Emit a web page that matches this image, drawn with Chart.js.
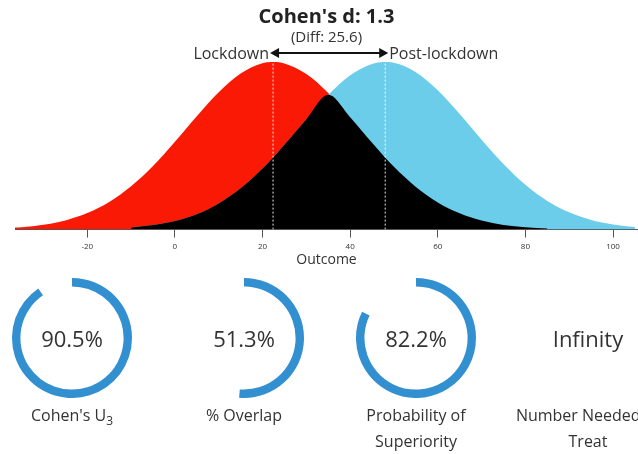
<!DOCTYPE html>
<html>
<head>
<meta charset="utf-8">
<script src="https://cdn.jsdelivr.net/npm/chart.js@4"></script>
<style>
  html, body { margin: 0; padding: 0; background: #fff; }
  body { width: 638px; height: 454px; position: relative; overflow: hidden; font-family: "Open Sans", sans-serif; color: #333; }
  #top { position: absolute; left: 0; top: 0; width: 638px; height: 268px; }
  .gauge { position: absolute; top: 278px; width: 120px; height: 120px; }
  .gauge .val { position: absolute; left: -30px; right: -30px; top: 0; line-height: 120px; text-align: center; font-size: 22px; color: #333; }
  .lbl { position: absolute; top: 402px; width: 200px; text-align: center; font-size: 16px; line-height: 26px; color: #333; white-space: nowrap; }
  .lbl sub { font-size: 12px; vertical-align: -4px; line-height: 0; }
</style>
</head>
<body>
<div id="top"><canvas id="dist"></canvas></div>
<div id="gauges"></div>

<script>
// distribution data (relative density, peak = 100)
const outcome = [-36.5, -35, -30, -25, -20, -15, -10, -5, 0, 5, 10, 15, 20, 22.5, 25, 30, 35, 40, 45, 47.5, 50, 55, 60, 65, 70, 75, 80, 85, 90, 95, 100, 105];
const lockdown = [1.2, 1.4, 2.9, 5.5, 9.9, 16.5, 25.9, 38.0, 52.4, 67.7, 82.0, 93.2, 99.3, 100.0, 99.1, 92.8, 81.5, 67.1, 51.8, 44.4, 37.5, 25.4, 16.2, 9.7, 5.4, 2.8, 1.4, 0.6, null, null, null, null];
const postLockdown = [null, null, null, null, null, null, 1.3, 2.7, 5.1, 9.2, 15.6, 24.6, 36.4, 43.3, 50.6, 65.9, 80.4, 92.1, 98.8, 100.0, 99.5, 93.9, 83.1, 68.9, 53.6, 39.1, 26.7, 17.1, 10.3, 5.8, 3.1, 1.5];
const groupMeans = [22.4, 48.0];
const groupNames = ['Lockdown', 'Post-lockdown'];
const xTicks = [-20, 0, 20, 40, 60, 80, 100];

const titleText = "Cohen's d: 1.3";
const subtitleText = '(Diff: 25.6)';

// gauges underneath
const gaugeValues = [90.5, 51.3, 82.2, Infinity];
const gaugeText = ['90.5%', '51.3%', '82.2%', 'Infinity'];
const gaugeLabels = ["Cohen's U<sub>3</sub>", '% Overlap', 'Probability of<br>Superiority', 'Number Needed to<br>Treat'];
const gaugeCenters = [72, 244, 416, 588];

function pts(ys) {
  return outcome.map((x, i) => ({ x, y: ys[i] }));
}

// overlap = the smaller of the two curves where both exist
const overlap = outcome.map((x, i) => {
  const a = lockdown[i], b = postLockdown[i];
  if (a == null || b == null) return null;
  return Math.min(a, b);
});

const arrowPlugin = {
  id: 'arrow',
  afterDatasetsDraw(chart) {
    const ctx = chart.ctx;
    const xs = chart.scales.x;
    const y = chart.chartArea.top - 9;
    const x1 = xs.getPixelForValue(groupMeans[0]) - 3;
    const x2 = xs.getPixelForValue(groupMeans[1]) + 3;
    ctx.save();
    ctx.strokeStyle = '#111';
    ctx.fillStyle = '#111';
    ctx.lineWidth = 2;
    ctx.beginPath();
    ctx.moveTo(x1 + 6, y);
    ctx.lineTo(x2 - 6, y);
    ctx.stroke();
    ctx.beginPath();
    ctx.moveTo(x1, y); ctx.lineTo(x1 + 9, y - 5); ctx.lineTo(x1 + 9, y + 5); ctx.closePath();
    ctx.fill();
    ctx.beginPath();
    ctx.moveTo(x2, y); ctx.lineTo(x2 - 9, y - 5); ctx.lineTo(x2 - 9, y + 5); ctx.closePath();
    ctx.fill();
    ctx.font = '16px "Open Sans"';
    ctx.fillStyle = '#333';
    ctx.textBaseline = 'middle';
    ctx.textAlign = 'right';
    ctx.fillText(groupNames[0], x1 - 1, y + 1);
    ctx.textAlign = 'left';
    ctx.fillText(groupNames[1], x2 + 1, y + 1);
    ctx.restore();
  }
};

function meanLine(m) {
  return {
    type: 'line',
    data: [{ x: m, y: 0 }, { x: m, y: 100 }],
    borderColor: 'rgba(255,255,255,0.9)',
    borderDash: [2, 2],
    borderWidth: 1,
    pointRadius: 0,
    fill: false,
    tension: 0,
  };
}

new Chart(document.getElementById('dist'), {
  type: 'line',
  data: {
    datasets: [
      meanLine(groupMeans[0]),
      meanLine(groupMeans[1]),
      {
        label: 'Overlap',
        data: pts(overlap),
        borderWidth: 0,
        backgroundColor: '#000',
        fill: 'origin',
        pointRadius: 0,
        cubicInterpolationMode: 'monotone',
      },
      {
        label: groupNames[1],
        data: pts(postLockdown),
        borderWidth: 0,
        backgroundColor: '#6bcde9',
        fill: 'origin',
        pointRadius: 0,
        cubicInterpolationMode: 'monotone',
      },
      {
        label: groupNames[0],
        data: pts(lockdown),
        borderWidth: 0,
        backgroundColor: '#fa1905',
        fill: 'origin',
        pointRadius: 0,
        cubicInterpolationMode: 'monotone',
      },
    ]
  },
  options: {
    responsive: true,
    maintainAspectRatio: false,
    animation: false,
    layout: { padding: { left: 15, right: 0, top: 0, bottom: 0 } },
    scales: {
      x: {
        type: 'linear',
        min: -36.5,
        max: 105.7,
        afterBuildTicks: axis => { axis.ticks = xTicks.map(v => ({ value: v })); },
        ticks: { font: { size: 8, family: 'Open Sans' }, color: '#333', padding: 4, maxRotation: 0 },
        grid: { drawOnChartArea: false, drawTicks: true, tickLength: 8, color: '#555' },
        border: { color: '#555', width: 1 },
        title: { display: true, text: 'Outcome', font: { size: 14, family: 'Open Sans' }, color: '#333', padding: { top: -4, bottom: 0 } },
      },
      y: { display: false, min: 0, max: 100 },
    },
    plugins: {
      legend: { display: false },
      tooltip: { enabled: false },
      title: {
        display: true,
        text: titleText,
        font: { size: 20, weight: 'bold', family: 'Open Sans' },
        color: '#222',
        padding: { top: 5, bottom: 0 },
      },
      subtitle: {
        display: true,
        text: subtitleText,
        font: { size: 15, family: 'Open Sans' },
        color: '#333',
        padding: { top: 0, bottom: 15 },
      },
    },
  },
  plugins: [arrowPlugin],
});

const holder = document.getElementById('gauges');
gaugeValues.forEach((v, i) => {
  const box = document.createElement('div');
  box.className = 'gauge';
  box.style.left = (gaugeCenters[i] - 60) + 'px';
  box.innerHTML = `<canvas></canvas><div class="val">${gaugeText[i]}</div>`;
  holder.appendChild(box);

  const lbl = document.createElement('div');
  lbl.className = 'lbl';
  lbl.style.left = (gaugeCenters[i] - 100) + 'px';
  lbl.innerHTML = gaugeLabels[i];
  holder.appendChild(lbl);

  const filled = isFinite(v) ? v : 0;
  new Chart(box.querySelector('canvas'), {
    type: 'doughnut',
    data: {
      datasets: [{
        data: [filled, 100 - filled],
        backgroundColor: ['#3390d0', 'rgba(0,0,0,0)'],
        borderWidth: 0,
      }]
    },
    options: {
      responsive: true,
      maintainAspectRatio: false,
      animation: false,
      cutout: '86%',
      plugins: { legend: { display: false }, tooltip: { enabled: false } },
    },
  });
});
</script>
</body>
</html>
